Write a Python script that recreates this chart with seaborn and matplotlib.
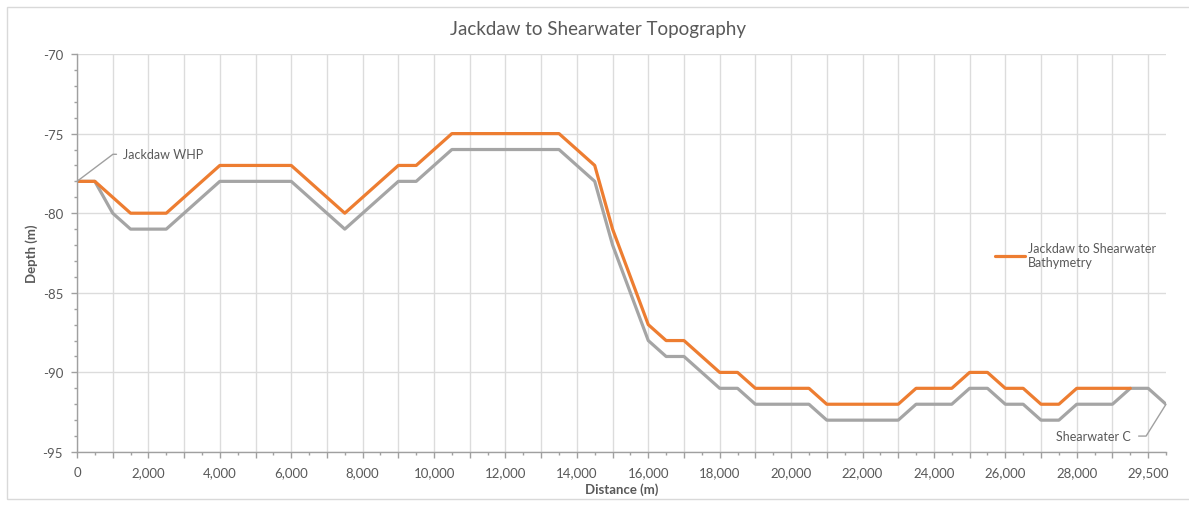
import seaborn as sns
import matplotlib.pyplot as plt
import pandas as pd
from matplotlib.ticker import MultipleLocator
from matplotlib.lines import Line2D
from matplotlib.patches import Rectangle

# depth at each survey point (points are category positions on the Excel axis)
bathymetry = [-78, -78, -79, -80, -80, -80, -79, -78, -77, -77, -77, -77, -77, -78, -79,
              -80, -79, -78, -77, -77, -76, -75, -75, -75, -75, -75, -75, -75, -76, -77,
              -81, -84, -87, -88, -88, -89, -90, -90, -91, -91, -91, -91, -92, -92, -92,
              -92, -92, -91, -91, -91, -90, -90, -91, -91, -92, -92, -91, -91, -91, -91]
pipeline = [-78, -78, -80, -81, -81, -81, -80, -79, -78, -78, -78, -78, -78, -79, -80,
            -81, -80, -79, -78, -78, -77, -76, -76, -76, -76, -76, -76, -76, -77, -78,
            -82, -85, -88, -89, -89, -90, -91, -91, -92, -92, -92, -92, -93, -93, -93,
            -93, -93, -92, -92, -92, -91, -91, -92, -92, -93, -93, -92, -92, -92, -91,
            -91, -92]
tick_points = list(range(0, 61, 4))
tick_labels = ["0", "2,000", "4,000", "6,000", "8,000", "10,000", "12,000", "14,000",
               "16,000", "18,000", "20,000", "22,000", "24,000", "26,000", "28,000", "29,500"]

df = pd.concat([
    pd.DataFrame({"point": range(len(bathymetry)), "depth": bathymetry, "series": "bathy"}),
    pd.DataFrame({"point": range(len(pipeline)), "depth": pipeline, "series": "pipe"}),
])

sns.set_theme(style="white")
plt.rcParams["font.family"] = ["Lato", "DejaVu Sans"]
plt.rcParams["axes.unicode_minus"] = False
txt = "#595959"
axc = "#a0a0a0"

fig = plt.figure(figsize=(11.89, 5.06), dpi=100)
ax = fig.add_axes([77 / 1189, 1 - 453 / 506, (1166 - 77) / 1189, (453 - 55) / 506])
fig.patches.append(Rectangle((7 / 1189, 6 / 506), 1.2, 1 - 14 / 506, transform=fig.transFigure,
                             fill=False, edgecolor="#d9d9d9", lw=1))

sns.lineplot(data=df, x="point", y="depth", hue="series", hue_order=["pipe", "bathy"],
             palette={"bathy": "#ED7D31", "pipe": "#A5A5A5"}, linewidth=2.3,
             legend=False, ax=ax)

ax.set_xlim(0, 61)
ax.set_ylim(-95, -70)
ax.set_yticks(range(-95, -69, 5))
ax.yaxis.set_minor_locator(MultipleLocator(1))
major = list(range(0, 61, 2))
ax.set_xticks(major)
lab = dict(zip(tick_points, tick_labels))
ax.set_xticklabels([lab.get(p, "") for p in major])
ax.xaxis.set_minor_locator(MultipleLocator(1))

ax.grid(True, which="major", color="#dcdcdc", lw=1)
for s in ["top", "right"]:
    ax.spines[s].set_visible(False)
for s in ["left", "bottom"]:
    ax.spines[s].set_color(axc)
    ax.spines[s].set_linewidth(1)
ax.tick_params(which="major", length=4, color=axc, width=1, labelsize=9.5, labelcolor=txt,
               left=True, bottom=True, pad=6)
ax.tick_params(which="minor", length=2.5, color=axc, width=1, left=True, bottom=True)

ax.set_xlabel("Distance (m)", fontsize=9.5, fontweight="bold", color=txt, labelpad=3)
ax.set_ylabel("Depth (m)", fontsize=9.5, fontweight="bold", color=txt, labelpad=3)
fig.text(0.503, 1 - 30 / 506, "Jackdaw to Shearwater Topography", ha="center", va="center",
         fontsize=13.5, color=txt)

ax.annotate("Jackdaw WHP", xy=(0, -78), xytext=(2.55, -76.3), ha="left", va="center",
            fontsize=9, color=txt,
            arrowprops=dict(arrowstyle="-", color=axc, lw=1, shrinkA=2, shrinkB=0,
                            connectionstyle="angle,angleA=0,angleB=37,rad=0"))
ax.annotate("Shearwater C", xy=(61, -92), xytext=(59.05, -94.0), ha="right", va="center",
            fontsize=9, color=txt,
            arrowprops=dict(arrowstyle="-", color=axc, lw=1, shrinkA=3, shrinkB=0,
                            connectionstyle="angle,angleA=0,angleB=58,rad=0"))

handle = Line2D([], [], color="#ED7D31", lw=2.3)
leg = ax.legend([handle], ["Jackdaw to Shearwater\nBathymetry"], loc="upper left",
                bbox_to_anchor=(995 / 1189, 1 - 243 / 506), bbox_transform=fig.transFigure,
                frameon=False, fontsize=9, handlelength=2.4, handletextpad=0.2,
                borderaxespad=0, borderpad=0)
for t in leg.get_texts():
    t.set_color(txt)

fig.savefig("out.png", dpi=100)
